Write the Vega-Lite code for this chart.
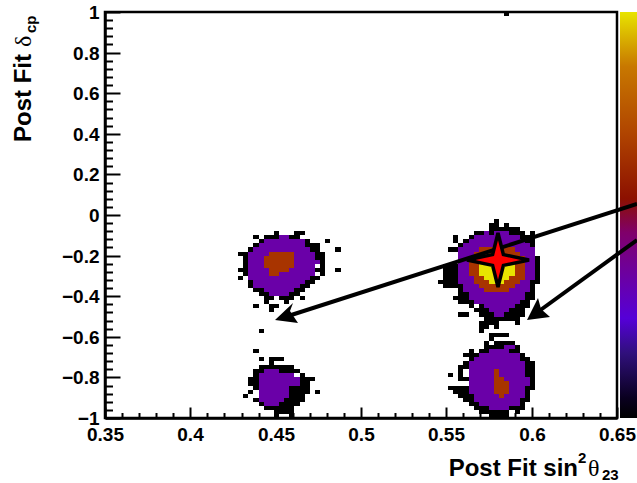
{"$schema":"https://vega.github.io/schema/vega-lite/v6.json","width":512,"height":406,"autosize":"none","padding":{"left":105,"top":12,"right":20,"bottom":65},"background":"white","config":{"view":{"stroke":"black","strokeWidth":2.5}},"datasets":{"cells":[
{"s0":0.449,"s1":0.452,"d0":-0.1,"d1":-0.08,"z":0},{"s0":0.461,"s1":0.467,"d0":-0.1,"d1":-0.08,"z":0},
{"s0":0.437,"s1":0.44,"d0":-0.12,"d1":-0.1,"z":0},{"s0":0.443,"s1":0.452,"d0":-0.12,"d1":-0.1,"z":0},{"s0":0.458,"s1":0.464,"d0":-0.12,"d1":-0.1,"z":0},{"s0":0.452,"s1":0.458,"d0":-0.12,"d1":-0.1,"z":0.33},
{"s0":0.44,"s1":0.443,"d0":-0.14,"d1":-0.12,"z":0},{"s0":0.467,"s1":0.47,"d0":-0.14,"d1":-0.12,"z":0},{"s0":0.479,"s1":0.482,"d0":-0.14,"d1":-0.12,"z":0},{"s0":0.443,"s1":0.467,"d0":-0.14,"d1":-0.12,"z":0.33},
{"s0":0.437,"s1":0.44,"d0":-0.16,"d1":-0.14,"z":0},{"s0":0.467,"s1":0.476,"d0":-0.16,"d1":-0.14,"z":0},{"s0":0.44,"s1":0.467,"d0":-0.16,"d1":-0.14,"z":0.33},
{"s0":0.434,"s1":0.437,"d0":-0.18,"d1":-0.16,"z":0},{"s0":0.47,"s1":0.476,"d0":-0.18,"d1":-0.16,"z":0},{"s0":0.485,"s1":0.488,"d0":-0.18,"d1":-0.16,"z":0},{"s0":0.437,"s1":0.47,"d0":-0.18,"d1":-0.16,"z":0.33},
{"s0":0.428,"s1":0.434,"d0":-0.2,"d1":-0.18,"z":0},{"s0":0.473,"s1":0.479,"d0":-0.2,"d1":-0.18,"z":0},{"s0":0.434,"s1":0.473,"d0":-0.2,"d1":-0.18,"z":0.33},{"s0":0.446,"s1":0.461,"d0":-0.2,"d1":-0.18,"z":0.73},
{"s0":0.431,"s1":0.434,"d0":-0.22,"d1":-0.2,"z":0},{"s0":0.473,"s1":0.479,"d0":-0.22,"d1":-0.2,"z":0},{"s0":0.434,"s1":0.473,"d0":-0.22,"d1":-0.2,"z":0.33},{"s0":0.443,"s1":0.461,"d0":-0.22,"d1":-0.2,"z":0.73},
{"s0":0.431,"s1":0.434,"d0":-0.24,"d1":-0.22,"z":0},{"s0":0.476,"s1":0.479,"d0":-0.24,"d1":-0.22,"z":0},{"s0":0.434,"s1":0.476,"d0":-0.24,"d1":-0.22,"z":0.33},{"s0":0.443,"s1":0.461,"d0":-0.24,"d1":-0.22,"z":0.73},
{"s0":0.431,"s1":0.434,"d0":-0.26,"d1":-0.24,"z":0},{"s0":0.476,"s1":0.479,"d0":-0.26,"d1":-0.24,"z":0},{"s0":0.434,"s1":0.473,"d0":-0.26,"d1":-0.24,"z":0.33},{"s0":0.443,"s1":0.461,"d0":-0.26,"d1":-0.24,"z":0.73},
{"s0":0.428,"s1":0.434,"d0":-0.28,"d1":-0.26,"z":0},{"s0":0.473,"s1":0.479,"d0":-0.28,"d1":-0.26,"z":0},{"s0":0.485,"s1":0.488,"d0":-0.28,"d1":-0.26,"z":0},{"s0":0.434,"s1":0.473,"d0":-0.28,"d1":-0.26,"z":0.33},{"s0":0.446,"s1":0.458,"d0":-0.28,"d1":-0.26,"z":0.73},
{"s0":0.431,"s1":0.434,"d0":-0.3,"d1":-0.28,"z":0},{"s0":0.476,"s1":0.479,"d0":-0.3,"d1":-0.28,"z":0},{"s0":0.434,"s1":0.473,"d0":-0.3,"d1":-0.28,"z":0.33},{"s0":0.446,"s1":0.452,"d0":-0.3,"d1":-0.28,"z":0.73},
{"s0":0.428,"s1":0.431,"d0":-0.32,"d1":-0.3,"z":0},{"s0":0.47,"s1":0.476,"d0":-0.32,"d1":-0.3,"z":0},{"s0":0.434,"s1":0.47,"d0":-0.32,"d1":-0.3,"z":0.33},
{"s0":0.434,"s1":0.437,"d0":-0.34,"d1":-0.32,"z":0},{"s0":0.467,"s1":0.473,"d0":-0.34,"d1":-0.32,"z":0},{"s0":0.437,"s1":0.467,"d0":-0.34,"d1":-0.32,"z":0.33},
{"s0":0.434,"s1":0.437,"d0":-0.36,"d1":-0.34,"z":0},{"s0":0.464,"s1":0.47,"d0":-0.36,"d1":-0.34,"z":0},{"s0":0.437,"s1":0.464,"d0":-0.36,"d1":-0.34,"z":0.33},
{"s0":0.437,"s1":0.443,"d0":-0.38,"d1":-0.36,"z":0},{"s0":0.461,"s1":0.467,"d0":-0.38,"d1":-0.36,"z":0},{"s0":0.443,"s1":0.461,"d0":-0.38,"d1":-0.36,"z":0.33},
{"s0":0.44,"s1":0.446,"d0":-0.4,"d1":-0.38,"z":0},{"s0":0.458,"s1":0.464,"d0":-0.4,"d1":-0.38,"z":0},{"s0":0.446,"s1":0.458,"d0":-0.4,"d1":-0.38,"z":0.33},
{"s0":0.443,"s1":0.449,"d0":-0.42,"d1":-0.4,"z":0},{"s0":0.452,"s1":0.461,"d0":-0.42,"d1":-0.4,"z":0},{"s0":0.464,"s1":0.467,"d0":-0.42,"d1":-0.4,"z":0},
{"s0":0.443,"s1":0.446,"d0":-0.44,"d1":-0.42,"z":0},{"s0":0.455,"s1":0.458,"d0":-0.44,"d1":-0.42,"z":0},
{"s0":0.437,"s1":0.44,"d0":-0.46,"d1":-0.44,"z":0},{"s0":0.446,"s1":0.452,"d0":-0.46,"d1":-0.44,"z":0},
{"s0":0.446,"s1":0.449,"d0":-0.48,"d1":-0.46,"z":0},
{"s0":0.44,"s1":0.443,"d0":-0.58,"d1":-0.56,"z":0},
{"s0":0.578,"s1":0.581,"d0":-0.04,"d1":-0.02,"z":0},
{"s0":0.575,"s1":0.581,"d0":-0.06,"d1":-0.04,"z":0},{"s0":0.584,"s1":0.587,"d0":-0.06,"d1":-0.04,"z":0},
{"s0":0.575,"s1":0.593,"d0":-0.08,"d1":-0.06,"z":0},
{"s0":0.566,"s1":0.572,"d0":-0.1,"d1":-0.08,"z":0},{"s0":0.575,"s1":0.578,"d0":-0.1,"d1":-0.08,"z":0},{"s0":0.587,"s1":0.596,"d0":-0.1,"d1":-0.08,"z":0},{"s0":0.599,"s1":0.602,"d0":-0.1,"d1":-0.08,"z":0},{"s0":0.572,"s1":0.575,"d0":-0.1,"d1":-0.08,"z":0.33},{"s0":0.578,"s1":0.587,"d0":-0.1,"d1":-0.08,"z":0.33},
{"s0":0.554,"s1":0.557,"d0":-0.12,"d1":-0.1,"z":0},{"s0":0.563,"s1":0.566,"d0":-0.12,"d1":-0.1,"z":0},{"s0":0.593,"s1":0.602,"d0":-0.12,"d1":-0.1,"z":0},{"s0":0.566,"s1":0.593,"d0":-0.12,"d1":-0.1,"z":0.33},
{"s0":0.554,"s1":0.557,"d0":-0.14,"d1":-0.12,"z":0},{"s0":0.56,"s1":0.563,"d0":-0.14,"d1":-0.12,"z":0},{"s0":0.596,"s1":0.602,"d0":-0.14,"d1":-0.12,"z":0},{"s0":0.563,"s1":0.596,"d0":-0.14,"d1":-0.12,"z":0.33},
{"s0":0.557,"s1":0.56,"d0":-0.16,"d1":-0.14,"z":0},{"s0":0.599,"s1":0.602,"d0":-0.16,"d1":-0.14,"z":0},{"s0":0.56,"s1":0.599,"d0":-0.16,"d1":-0.14,"z":0.33},
{"s0":0.551,"s1":0.557,"d0":-0.18,"d1":-0.16,"z":0},{"s0":0.557,"s1":0.602,"d0":-0.18,"d1":-0.16,"z":0.33},{"s0":0.569,"s1":0.59,"d0":-0.18,"d1":-0.16,"z":0.73},
{"s0":0.557,"s1":0.602,"d0":-0.2,"d1":-0.18,"z":0.33},{"s0":0.566,"s1":0.593,"d0":-0.2,"d1":-0.18,"z":0.73},
{"s0":0.602,"s1":0.605,"d0":-0.22,"d1":-0.2,"z":0},{"s0":0.557,"s1":0.602,"d0":-0.22,"d1":-0.2,"z":0.33},{"s0":0.563,"s1":0.596,"d0":-0.22,"d1":-0.2,"z":0.73},
{"s0":0.602,"s1":0.605,"d0":-0.24,"d1":-0.22,"z":0},{"s0":0.557,"s1":0.602,"d0":-0.24,"d1":-0.22,"z":0.33},{"s0":0.563,"s1":0.596,"d0":-0.24,"d1":-0.22,"z":0.73},{"s0":0.572,"s1":0.59,"d0":-0.24,"d1":-0.22,"z":0.85},
{"s0":0.548,"s1":0.557,"d0":-0.26,"d1":-0.24,"z":0},{"s0":0.602,"s1":0.605,"d0":-0.26,"d1":-0.24,"z":0},{"s0":0.557,"s1":0.602,"d0":-0.26,"d1":-0.24,"z":0.33},{"s0":0.563,"s1":0.596,"d0":-0.26,"d1":-0.24,"z":0.73},{"s0":0.569,"s1":0.59,"d0":-0.26,"d1":-0.24,"z":1},
{"s0":0.548,"s1":0.557,"d0":-0.28,"d1":-0.26,"z":0},{"s0":0.602,"s1":0.605,"d0":-0.28,"d1":-0.26,"z":0},{"s0":0.557,"s1":0.602,"d0":-0.28,"d1":-0.26,"z":0.33},{"s0":0.563,"s1":0.596,"d0":-0.28,"d1":-0.26,"z":0.73},{"s0":0.569,"s1":0.59,"d0":-0.28,"d1":-0.26,"z":1},
{"s0":0.548,"s1":0.557,"d0":-0.3,"d1":-0.28,"z":0},{"s0":0.602,"s1":0.605,"d0":-0.3,"d1":-0.28,"z":0},{"s0":0.557,"s1":0.602,"d0":-0.3,"d1":-0.28,"z":0.33},{"s0":0.563,"s1":0.596,"d0":-0.3,"d1":-0.28,"z":0.73},{"s0":0.569,"s1":0.59,"d0":-0.3,"d1":-0.28,"z":1},
{"s0":0.548,"s1":0.557,"d0":-0.32,"d1":-0.3,"z":0},{"s0":0.602,"s1":0.605,"d0":-0.32,"d1":-0.3,"z":0},{"s0":0.557,"s1":0.602,"d0":-0.32,"d1":-0.3,"z":0.33},{"s0":0.566,"s1":0.596,"d0":-0.32,"d1":-0.3,"z":0.73},{"s0":0.572,"s1":0.587,"d0":-0.32,"d1":-0.3,"z":1},
{"s0":0.545,"s1":0.557,"d0":-0.34,"d1":-0.32,"z":0},{"s0":0.599,"s1":0.605,"d0":-0.34,"d1":-0.32,"z":0},{"s0":0.557,"s1":0.599,"d0":-0.34,"d1":-0.32,"z":0.33},{"s0":0.566,"s1":0.593,"d0":-0.34,"d1":-0.32,"z":0.73},{"s0":0.575,"s1":0.584,"d0":-0.34,"d1":-0.32,"z":1},
{"s0":0.548,"s1":0.56,"d0":-0.36,"d1":-0.34,"z":0},{"s0":0.599,"s1":0.602,"d0":-0.36,"d1":-0.34,"z":0},{"s0":0.56,"s1":0.599,"d0":-0.36,"d1":-0.34,"z":0.33},{"s0":0.569,"s1":0.59,"d0":-0.36,"d1":-0.34,"z":0.73},
{"s0":0.557,"s1":0.56,"d0":-0.38,"d1":-0.36,"z":0},{"s0":0.599,"s1":0.602,"d0":-0.38,"d1":-0.36,"z":0},{"s0":0.56,"s1":0.599,"d0":-0.38,"d1":-0.36,"z":0.33},{"s0":0.572,"s1":0.587,"d0":-0.38,"d1":-0.36,"z":0.73},
{"s0":0.557,"s1":0.563,"d0":-0.4,"d1":-0.38,"z":0},{"s0":0.596,"s1":0.602,"d0":-0.4,"d1":-0.38,"z":0},{"s0":0.563,"s1":0.596,"d0":-0.4,"d1":-0.38,"z":0.33},
{"s0":0.554,"s1":0.563,"d0":-0.42,"d1":-0.4,"z":0},{"s0":0.596,"s1":0.602,"d0":-0.42,"d1":-0.4,"z":0},{"s0":0.563,"s1":0.596,"d0":-0.42,"d1":-0.4,"z":0.33},
{"s0":0.557,"s1":0.566,"d0":-0.44,"d1":-0.42,"z":0},{"s0":0.593,"s1":0.599,"d0":-0.44,"d1":-0.42,"z":0},{"s0":0.566,"s1":0.593,"d0":-0.44,"d1":-0.42,"z":0.33},
{"s0":0.563,"s1":0.566,"d0":-0.46,"d1":-0.44,"z":0},{"s0":0.569,"s1":0.572,"d0":-0.46,"d1":-0.44,"z":0},{"s0":0.59,"s1":0.599,"d0":-0.46,"d1":-0.44,"z":0},{"s0":0.572,"s1":0.59,"d0":-0.46,"d1":-0.44,"z":0.33},
{"s0":0.566,"s1":0.575,"d0":-0.48,"d1":-0.46,"z":0},{"s0":0.587,"s1":0.596,"d0":-0.48,"d1":-0.46,"z":0},{"s0":0.575,"s1":0.587,"d0":-0.48,"d1":-0.46,"z":0.33},
{"s0":0.557,"s1":0.563,"d0":-0.5,"d1":-0.48,"z":0},{"s0":0.569,"s1":0.578,"d0":-0.5,"d1":-0.48,"z":0},{"s0":0.584,"s1":0.596,"d0":-0.5,"d1":-0.48,"z":0},{"s0":0.578,"s1":0.584,"d0":-0.5,"d1":-0.48,"z":0.33},
{"s0":0.572,"s1":0.593,"d0":-0.52,"d1":-0.5,"z":0},
{"s0":0.569,"s1":0.581,"d0":-0.54,"d1":-0.52,"z":0},{"s0":0.59,"s1":0.593,"d0":-0.54,"d1":-0.52,"z":0},
{"s0":0.569,"s1":0.575,"d0":-0.56,"d1":-0.54,"z":0},{"s0":0.578,"s1":0.581,"d0":-0.56,"d1":-0.54,"z":0},
{"s0":0.569,"s1":0.572,"d0":-0.58,"d1":-0.56,"z":0},
{"s0":0.575,"s1":0.587,"d0":-0.6,"d1":-0.58,"z":0},
{"s0":0.575,"s1":0.578,"d0":-0.62,"d1":-0.6,"z":0},
{"s0":0.572,"s1":0.575,"d0":-0.64,"d1":-0.62,"z":0},{"s0":0.578,"s1":0.59,"d0":-0.64,"d1":-0.62,"z":0},
{"s0":0.572,"s1":0.584,"d0":-0.66,"d1":-0.64,"z":0},{"s0":0.59,"s1":0.593,"d0":-0.66,"d1":-0.64,"z":0},{"s0":0.584,"s1":0.59,"d0":-0.66,"d1":-0.64,"z":0.33},
{"s0":0.563,"s1":0.566,"d0":-0.68,"d1":-0.66,"z":0},{"s0":0.569,"s1":0.575,"d0":-0.68,"d1":-0.66,"z":0},{"s0":0.587,"s1":0.593,"d0":-0.68,"d1":-0.66,"z":0},{"s0":0.575,"s1":0.587,"d0":-0.68,"d1":-0.66,"z":0.33},
{"s0":0.56,"s1":0.569,"d0":-0.7,"d1":-0.68,"z":0},{"s0":0.593,"s1":0.596,"d0":-0.7,"d1":-0.68,"z":0},{"s0":0.569,"s1":0.593,"d0":-0.7,"d1":-0.68,"z":0.33},
{"s0":0.563,"s1":0.566,"d0":-0.72,"d1":-0.7,"z":0},{"s0":0.593,"s1":0.599,"d0":-0.72,"d1":-0.7,"z":0},{"s0":0.566,"s1":0.593,"d0":-0.72,"d1":-0.7,"z":0.33},
{"s0":0.56,"s1":0.563,"d0":-0.74,"d1":-0.72,"z":0},{"s0":0.596,"s1":0.602,"d0":-0.74,"d1":-0.72,"z":0},{"s0":0.563,"s1":0.596,"d0":-0.74,"d1":-0.72,"z":0.33},
{"s0":0.557,"s1":0.563,"d0":-0.76,"d1":-0.74,"z":0},{"s0":0.596,"s1":0.602,"d0":-0.76,"d1":-0.74,"z":0},{"s0":0.563,"s1":0.596,"d0":-0.76,"d1":-0.74,"z":0.33},
{"s0":0.557,"s1":0.56,"d0":-0.78,"d1":-0.76,"z":0},{"s0":0.596,"s1":0.602,"d0":-0.78,"d1":-0.76,"z":0},{"s0":0.563,"s1":0.596,"d0":-0.78,"d1":-0.76,"z":0.33},{"s0":0.578,"s1":0.581,"d0":-0.78,"d1":-0.76,"z":0.73},
{"s0":0.551,"s1":0.554,"d0":-0.8,"d1":-0.78,"z":0},{"s0":0.557,"s1":0.56,"d0":-0.8,"d1":-0.78,"z":0},{"s0":0.596,"s1":0.602,"d0":-0.8,"d1":-0.78,"z":0},{"s0":0.563,"s1":0.596,"d0":-0.8,"d1":-0.78,"z":0.33},{"s0":0.578,"s1":0.581,"d0":-0.8,"d1":-0.78,"z":0.73},
{"s0":0.557,"s1":0.563,"d0":-0.82,"d1":-0.8,"z":0},{"s0":0.599,"s1":0.602,"d0":-0.82,"d1":-0.8,"z":0},{"s0":0.563,"s1":0.599,"d0":-0.82,"d1":-0.8,"z":0.33},{"s0":0.578,"s1":0.584,"d0":-0.82,"d1":-0.8,"z":0.73},
{"s0":0.599,"s1":0.602,"d0":-0.84,"d1":-0.82,"z":0},{"s0":0.563,"s1":0.599,"d0":-0.84,"d1":-0.82,"z":0.33},{"s0":0.578,"s1":0.587,"d0":-0.84,"d1":-0.82,"z":0.73},
{"s0":0.551,"s1":0.563,"d0":-0.86,"d1":-0.84,"z":0},{"s0":0.596,"s1":0.602,"d0":-0.86,"d1":-0.84,"z":0},{"s0":0.563,"s1":0.596,"d0":-0.86,"d1":-0.84,"z":0.33},{"s0":0.578,"s1":0.587,"d0":-0.86,"d1":-0.84,"z":0.73},
{"s0":0.554,"s1":0.563,"d0":-0.88,"d1":-0.86,"z":0},{"s0":0.596,"s1":0.599,"d0":-0.88,"d1":-0.86,"z":0},{"s0":0.563,"s1":0.596,"d0":-0.88,"d1":-0.86,"z":0.33},{"s0":0.578,"s1":0.587,"d0":-0.88,"d1":-0.86,"z":0.73},
{"s0":0.557,"s1":0.566,"d0":-0.9,"d1":-0.88,"z":0},{"s0":0.596,"s1":0.599,"d0":-0.9,"d1":-0.88,"z":0},{"s0":0.566,"s1":0.596,"d0":-0.9,"d1":-0.88,"z":0.33},{"s0":0.581,"s1":0.584,"d0":-0.9,"d1":-0.88,"z":0.73},
{"s0":0.56,"s1":0.566,"d0":-0.92,"d1":-0.9,"z":0},{"s0":0.593,"s1":0.599,"d0":-0.92,"d1":-0.9,"z":0},{"s0":0.566,"s1":0.593,"d0":-0.92,"d1":-0.9,"z":0.33},
{"s0":0.563,"s1":0.569,"d0":-0.94,"d1":-0.92,"z":0},{"s0":0.593,"s1":0.596,"d0":-0.94,"d1":-0.92,"z":0},{"s0":0.569,"s1":0.593,"d0":-0.94,"d1":-0.92,"z":0.33},
{"s0":0.566,"s1":0.575,"d0":-0.96,"d1":-0.94,"z":0},{"s0":0.587,"s1":0.596,"d0":-0.96,"d1":-0.94,"z":0},{"s0":0.575,"s1":0.587,"d0":-0.96,"d1":-0.94,"z":0.33},
{"s0":0.569,"s1":0.587,"d0":-0.98,"d1":-0.96,"z":0},{"s0":0.59,"s1":0.593,"d0":-0.98,"d1":-0.96,"z":0},
{"s0":0.575,"s1":0.587,"d0":-1,"d1":-0.98,"z":0},
{"s0":0.437,"s1":0.44,"d0":-0.68,"d1":-0.66,"z":0},
{"s0":0.44,"s1":0.443,"d0":-0.72,"d1":-0.7,"z":0},{"s0":0.446,"s1":0.455,"d0":-0.72,"d1":-0.7,"z":0},
{"s0":0.446,"s1":0.449,"d0":-0.74,"d1":-0.72,"z":0},
{"s0":0.44,"s1":0.461,"d0":-0.76,"d1":-0.74,"z":0},
{"s0":0.437,"s1":0.443,"d0":-0.78,"d1":-0.76,"z":0},{"s0":0.452,"s1":0.464,"d0":-0.78,"d1":-0.76,"z":0},{"s0":0.443,"s1":0.452,"d0":-0.78,"d1":-0.76,"z":0.33},
{"s0":0.437,"s1":0.44,"d0":-0.8,"d1":-0.78,"z":0},{"s0":0.464,"s1":0.467,"d0":-0.8,"d1":-0.78,"z":0},{"s0":0.44,"s1":0.461,"d0":-0.8,"d1":-0.78,"z":0.33},
{"s0":0.434,"s1":0.44,"d0":-0.82,"d1":-0.8,"z":0},{"s0":0.464,"s1":0.473,"d0":-0.82,"d1":-0.8,"z":0},{"s0":0.44,"s1":0.464,"d0":-0.82,"d1":-0.8,"z":0.33},
{"s0":0.434,"s1":0.44,"d0":-0.84,"d1":-0.82,"z":0},{"s0":0.464,"s1":0.47,"d0":-0.84,"d1":-0.82,"z":0},{"s0":0.44,"s1":0.464,"d0":-0.84,"d1":-0.82,"z":0.33},
{"s0":0.437,"s1":0.44,"d0":-0.86,"d1":-0.84,"z":0},{"s0":0.458,"s1":0.47,"d0":-0.86,"d1":-0.84,"z":0},{"s0":0.44,"s1":0.458,"d0":-0.86,"d1":-0.84,"z":0.33},
{"s0":0.434,"s1":0.437,"d0":-0.88,"d1":-0.86,"z":0},{"s0":0.458,"s1":0.47,"d0":-0.88,"d1":-0.86,"z":0},{"s0":0.473,"s1":0.476,"d0":-0.88,"d1":-0.86,"z":0},{"s0":0.44,"s1":0.458,"d0":-0.88,"d1":-0.86,"z":0.33},
{"s0":0.431,"s1":0.434,"d0":-0.9,"d1":-0.88,"z":0},{"s0":0.458,"s1":0.467,"d0":-0.9,"d1":-0.88,"z":0},{"s0":0.44,"s1":0.458,"d0":-0.9,"d1":-0.88,"z":0.33},
{"s0":0.437,"s1":0.44,"d0":-0.92,"d1":-0.9,"z":0},{"s0":0.455,"s1":0.467,"d0":-0.92,"d1":-0.9,"z":0},{"s0":0.44,"s1":0.455,"d0":-0.92,"d1":-0.9,"z":0.33},
{"s0":0.44,"s1":0.443,"d0":-0.94,"d1":-0.92,"z":0},{"s0":0.452,"s1":0.464,"d0":-0.94,"d1":-0.92,"z":0},{"s0":0.443,"s1":0.452,"d0":-0.94,"d1":-0.92,"z":0.33},
{"s0":0.443,"s1":0.461,"d0":-0.96,"d1":-0.94,"z":0},
{"s0":0.449,"s1":0.461,"d0":-0.98,"d1":-0.96,"z":0},
{"s0":0.449,"s1":0.452,"d0":-1,"d1":-0.98,"z":0},{"s0":0.458,"s1":0.461,"d0":-1,"d1":-0.98,"z":0},
{"s0":0.584,"s1":0.587,"d0":0.98,"d1":1,"z":0}
]},"layer":[
{"data":{"name":"cells"},"mark":{"type":"rect"},"encoding":{
"x":{"field":"s0","type":"quantitative","scale":{"domain":[0.35,0.65],"nice":false,"zero":false,"round":true},"axis":{"title":null,"zindex":1,"grid":false,"domainColor":"black","domainWidth":2.5,"tickColor":"black","tickWidth":2,"tickCount":200,"values":[0.35,0.36,0.37,0.38,0.39,0.4,0.41,0.42,0.43,0.44,0.45,0.46,0.47,0.48,0.49,0.5,0.51,0.52,0.53,0.54,0.55,0.56,0.57,0.58,0.59,0.6,0.61,0.62,0.63,0.64,0.65],"tickSize":{"condition":{"test":"abs(datum.value*20-round(datum.value*20))<0.001","value":-11},"value":-5.5},"format":"~g","labelExpr":"abs(datum.value*20-round(datum.value*20))<0.001 ? datum.label : ''","labelFont":"Liberation Sans","labelFontWeight":"bold","labelFontSize":19,"labelColor":"black","labelPadding":18,"labelOverlap":false,"labelFlush":false,"labelBound":false}},
"x2":{"field":"s1"},
"y":{"field":"d0","type":"quantitative","scale":{"domain":[-1,1],"nice":false,"zero":false,"round":true},"axis":{"title":null,"zindex":1,"grid":false,"domainColor":"black","domainWidth":2.5,"tickColor":"black","tickWidth":2,"tickCount":200,"values":[-1,-0.96,-0.92,-0.88,-0.84,-0.8,-0.76,-0.72,-0.68,-0.64,-0.6,-0.56,-0.52,-0.48,-0.44,-0.4,-0.36,-0.32,-0.28,-0.24,-0.2,-0.16,-0.12,-0.08,-0.04,0,0.04,0.08,0.12,0.16,0.2,0.24,0.28,0.32,0.36,0.4,0.44,0.48,0.52,0.56,0.6,0.64,0.68,0.72,0.76,0.8,0.84,0.88,0.92,0.96,1],"tickSize":{"condition":{"test":"abs(datum.value*5-round(datum.value*5))<0.001","value":-15},"value":-7.5},"format":"~g","labelExpr":"abs(datum.value*5-round(datum.value*5))<0.001 ? datum.label : ''","labelFont":"Liberation Sans","labelFontWeight":"bold","labelFontSize":19,"labelColor":"black","labelPadding":21,"labelOverlap":false,"labelFlush":false,"labelBound":false}},
"y2":{"field":"d1"},
"color":{"field":"z","type":"ordinal","legend":null,"scale":{"domain":[0,0.33,0.73,0.85,1],"range":["#000000","#6a00a8","#a83400","#c86400","#e8e400"]}}
}},
{"data":{"values":[{"s0":0.6518,"s1":0.665,"d0":-1,"d1":1}]},"mark":{"type":"rect","color":{"gradient":"linear","x1":0,"y1":0,"x2":0,"y2":1,"stops":[{"offset":0,"color":"#e8e400"},{"offset":0.134,"color":"#c87800"},{"offset":0.3,"color":"#b04400"},{"offset":0.46,"color":"#8c1000"},{"offset":0.543,"color":"#80006a"},{"offset":0.624,"color":"#700095"},{"offset":0.755,"color":"#5500d8"},{"offset":0.84,"color":"#30107c"},{"offset":0.95,"color":"#0a0020"},{"offset":1,"color":"#000000"}]}},"encoding":{"x":{"field":"s0","type":"quantitative"},"x2":{"field":"s1"},"y":{"field":"d0","type":"quantitative"},"y2":{"field":"d1"}}},
{"data":{"values":[{"s0":0.6617,"s1":0.4555,"d0":0.0542,"d1":-0.5},{"s0":0.6617,"s1":0.602,"d0":-0.1232,"d1":-0.4877}]},"mark":{"type":"rule","color":"black","strokeWidth":4},"encoding":{"x":{"field":"s0","type":"quantitative"},"x2":{"field":"s1"},"y":{"field":"d0","type":"quantitative"},"y2":{"field":"d1"}}},
{"data":{"values":[{"s":0.4496,"d":-0.5172}]},"mark":{"type":"point","filled":true,"opacity":1,"color":"black","size":1600,"shape":"M0,0 L0.9,-0.85 L0.75,-0.45 L1.15,0.15 Z"},"encoding":{"x":{"field":"s","type":"quantitative"},"y":{"field":"d","type":"quantitative"}}},
{"data":{"values":[{"s":0.5971,"d":-0.5172}]},"mark":{"type":"point","filled":true,"opacity":1,"color":"black","size":1600,"shape":"M0,0 L0.55,-1.1 L0.7,-0.55 L1.15,-0.15 Z"},"encoding":{"x":{"field":"s","type":"quantitative"},"y":{"field":"d","type":"quantitative"}}},
{"data":{"values":[{"s":0.5801,"d":-0.2217}]},"mark":{"type":"point","filled":true,"opacity":1,"fill":"#ff0000","stroke":"black","strokeWidth":3.5,"size":2916,"shape":"M0,-1 L0.2,-0.2 L1.15,0 L0.2,0.2 L0,1 L-0.2,0.2 L-1.15,0 L-0.2,-0.2 Z"},"encoding":{"x":{"field":"s","type":"quantitative"},"y":{"field":"d","type":"quantitative"}}},
{"data":{"values":[{"s":0.62715,"d":-1.2857,"t":"Post Fit sin"}]},"mark":{"type":"text","font":"Liberation Sans","fontWeight":"bold","fontSize":24,"align":"right","baseline":"alphabetic","color":"black"},"encoding":{"x":{"field":"s","type":"quantitative"},"y":{"field":"d","type":"quantitative"},"text":{"field":"t"}}},
{"data":{"values":[{"s":0.62715,"d":-1.2217,"t":"2"},{"s":0.6412,"d":-1.3054,"t":"23"}]},"mark":{"type":"text","font":"Liberation Sans","fontWeight":"bold","fontSize":15,"align":"left","baseline":"alphabetic","color":"black"},"encoding":{"x":{"field":"s","type":"quantitative"},"y":{"field":"d","type":"quantitative"},"text":{"field":"t"}}},
{"data":{"values":[{"s":0.633,"d":-1.2857,"t":"θ"}]},"mark":{"type":"text","font":"Liberation Serif","fontSize":24,"align":"left","baseline":"alphabetic","color":"black"},"encoding":{"x":{"field":"s","type":"quantitative"},"y":{"field":"d","type":"quantitative"},"text":{"field":"t"}}},
{"data":{"values":[{"s":0.30664,"d":0.3611,"t":"Post Fit"}]},"mark":{"type":"text","font":"Liberation Sans","fontWeight":"bold","fontSize":24,"align":"left","baseline":"alphabetic","angle":270,"color":"black"},"encoding":{"x":{"field":"s","type":"quantitative"},"y":{"field":"d","type":"quantitative"},"text":{"field":"t"}}},
{"data":{"values":[{"s":0.30664,"d":0.83,"t":"δ"}]},"mark":{"type":"text","font":"Liberation Serif","fontSize":24,"align":"left","baseline":"alphabetic","angle":270,"color":"black"},"encoding":{"x":{"field":"s","type":"quantitative"},"y":{"field":"d","type":"quantitative"},"text":{"field":"t"}}},
{"data":{"values":[{"s":0.30957,"d":0.8966,"t":"cp"}]},"mark":{"type":"text","font":"Liberation Sans","fontWeight":"bold","fontSize":15,"align":"left","baseline":"alphabetic","angle":270,"color":"black"},"encoding":{"x":{"field":"s","type":"quantitative"},"y":{"field":"d","type":"quantitative"},"text":{"field":"t"}}}
]}
